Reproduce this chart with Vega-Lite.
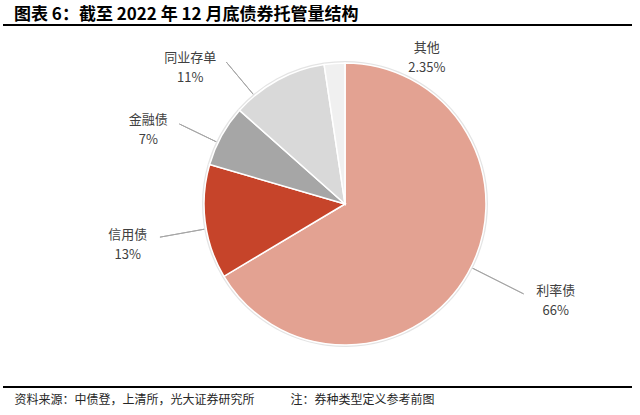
{
  "$schema": "https://vega.github.io/schema/vega-lite/v6.json",
  "autosize": "none",
  "width": 629,
  "height": 362,
  "padding": {"left": 3, "top": 25, "right": 8, "bottom": 28},
  "config": {
    "font": "Noto Sans CJK SC",
    "view": {"stroke": "#000000", "strokeWidth": 2, "strokeDash": [629, 362, 629, 362]}
  },
  "title": {
    "text": "图表 6：截至 2022 年 12 月底债券托管量结构",
    "anchor": "start",
    "frame": "group",
    "dx": 11,
    "offset": 1,
    "fontSize": 17,
    "fontWeight": "bold",
    "color": "#000000",
    "font": "Noto Sans CJK SC"
  },
  "data": {
    "values": [
      {"order": 1, "name": "利率债", "share": 0.66},
      {"order": 2, "name": "信用债", "share": 0.13},
      {"order": 3, "name": "金融债", "share": 0.07},
      {"order": 4, "name": "同业存单", "share": 0.11},
      {"order": 5, "name": "其他", "share": 0.0235}
    ]
  },
  "layer": [
    {
      "mark": {"type": "point", "opacity": 0},
      "encoding": {
        "x": {
          "field": "share",
          "type": "quantitative",
          "axis": {
            "domain": false,
            "ticks": false,
            "labels": false,
            "grid": false,
            "minExtent": 0,
            "maxExtent": 0,
            "title": "资料来源：中债登，上清所，光大证券研究所　　　注：券种类型定义参考前图",
            "titleAnchor": "start",
            "titleAlign": "left",
            "titleX": 11,
            "titlePadding": 7,
            "titleBaseline": "top",
            "titleFontSize": 12,
            "titleFontWeight": "normal",
            "titleColor": "#262626",
            "titleFont": "Noto Sans CJK SC"
          }
        }
      }
    },
    {
      "transform": [
        {"stack": "share", "groupby": [], "sort": [{"field": "order", "order": "ascending"}], "as": ["t0", "t1"]},
        {"filter": "datum.name != '其他'"}
      ],
      "mark": {
        "type": "arc",
        "x": {"expr": "width/2+27.5"},
        "y": {"expr": "height/2-2"},
        "radius": {"expr": "datum.name=='利率债'?200:datum.name=='信用债'?188:datum.name=='金融债'?184:185"},
        "radius2": 142,
        "padAngle": 3,
        "thetaOffset": {"expr": "datum.name=='利率债'?1.037:datum.name=='信用债'?-0.05:datum.name=='金融债'?-0.055:-0.2"},
        "theta2Offset": {"expr": "datum.name=='利率债'?-1.137:datum.name=='信用债'?-0.05:datum.name=='金融债'?-0.055:-0.2"},
        "fill": null,
        "stroke": "#A6A6A6",
        "strokeWidth": 1
      },
      "encoding": {
        "theta": {"field": "t0", "type": "quantitative", "scale": {"domain": [0, 0.9935]}},
        "theta2": {"field": "t1"}
      }
    },
    {
      "mark": {"type": "arc", "radius": 143, "fill": "#E4E4E4", "x": {"expr": "width/2+27.5"}, "y": {"expr": "height/2-2"}},
      "encoding": {
        "theta": {"field": "share", "type": "quantitative", "stack": true},
        "order": {"field": "order", "type": "quantitative"}
      }
    },
    {
      "mark": {"type": "arc", "radius": 141, "stroke": "#FFFFFF", "strokeWidth": 1.5, "x": {"expr": "width/2+27.5"}, "y": {"expr": "height/2-2"}},
      "encoding": {
        "theta": {"field": "share", "type": "quantitative", "stack": true},
        "order": {"field": "order", "type": "quantitative"},
        "color": {
          "field": "name",
          "type": "nominal",
          "scale": {
            "domain": ["利率债", "信用债", "金融债", "同业存单", "其他"],
            "range": ["#E3A292", "#C6442A", "#A6A6A6", "#D9D9D9", "#F0F0F0"]
          },
          "legend": null
        }
      }
    },
    {
      "mark": {
        "type": "text",
        "x": {"expr": "width/2+27.5"},
        "y": {"expr": "height/2-2"},
        "radius": {"expr": "datum.name=='利率债'?232:datum.name=='信用债'?221:datum.name=='金融债'?210:datum.name=='同业存单'?206:167"},
        "thetaOffset": {"expr": "datum.name=='利率债'?-0.084:datum.name=='信用债'?-0.059:datum.name=='金融债'?-0.147:datum.name=='同业存单'?-0.353:0.586"},
        "dy": -10,
        "fontSize": 13,
        "color": "#404040",
        "font": "Noto Sans CJK SC"
      },
      "encoding": {
        "theta": {"field": "share", "type": "quantitative", "stack": true},
        "order": {"field": "order", "type": "quantitative"},
        "text": {"field": "name", "type": "nominal"}
      }
    },
    {
      "mark": {
        "type": "text",
        "x": {"expr": "width/2+27.5"},
        "y": {"expr": "height/2-2"},
        "radius": {"expr": "datum.name=='利率债'?232:datum.name=='信用债'?221:datum.name=='金融债'?210:datum.name=='同业存单'?206:167"},
        "thetaOffset": {"expr": "datum.name=='利率债'?-0.084:datum.name=='信用债'?-0.059:datum.name=='金融债'?-0.147:datum.name=='同业存单'?-0.353:0.586"},
        "dy": 10,
        "fontSize": 13,
        "color": "#404040",
        "font": "Noto Sans CJK SC"
      },
      "encoding": {
        "theta": {"field": "share", "type": "quantitative", "stack": true},
        "order": {"field": "order", "type": "quantitative"},
        "text": {"field": "share", "type": "quantitative", "format": ".2~%"}
      }
    }
  ]
}
